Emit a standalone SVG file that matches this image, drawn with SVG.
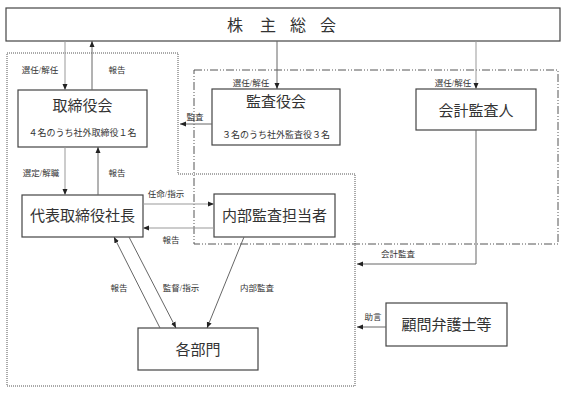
<svg xmlns="http://www.w3.org/2000/svg" width="568" height="398" viewBox="0 0 568 398">
<style>
.box{fill:#fff;stroke:#444;stroke-width:1.2}
.t{font-family:"Liberation Serif","Noto Sans CJK JP",serif;fill:#333;text-anchor:middle}
.big{font-size:15px}
.sm{font-size:8.5px}
.mid{font-size:9px}
.c{fill:none;stroke:#666;stroke-width:1}
.cl{fill:none;stroke:#999;stroke-width:1}
.dot{fill:none;stroke:#555;stroke-width:1;stroke-dasharray:1 1}
.dd{fill:none;stroke:#555;stroke-width:1;stroke-dasharray:8 2 1 2 1 2}
</style>
<defs>
<marker id="a" markerUnits="userSpaceOnUse" markerWidth="6" markerHeight="6" refX="6" refY="3" orient="auto">
<path d="M0,0.5 L6,3 L0,5.5 z" fill="#222"/>
</marker>
</defs>
<g id="regions">
<path class="dot" d="M7,53 H178 V174 H355 V386 H7 Z"/>
<path class="dd" d="M194,70 H558 V244 H194 Z"/>
</g>
<g id="shareholders">
<rect class="box" x="6" y="8" width="554" height="33"/>
<text class="t" style="font-size:16px" x="235 268 298 328" y="31">株主総会</text>
</g>
<g id="board">
<rect class="box" x="18" y="90" width="129" height="57"/>
<text class="t big" x="82.5" y="111">取締役会</text>
<text class="t mid" x="82.5" y="136">４名のうち社外取締役１名</text>
</g>
<g id="auditboard">
<rect class="box" x="212" y="89" width="128" height="56"/>
<text class="t big" x="276" y="107">監査役会</text>
<text class="t mid" x="276" y="138">３名のうち社外監査役３名</text>
</g>
<g id="accountant">
<rect class="box" x="416" y="89" width="120" height="41"/>
<text class="t big" x="476" y="116">会計監査人</text>
</g>
<g id="president">
<rect class="box" x="22" y="195" width="121" height="42"/>
<text class="t big" x="82.5" y="221">代表取締役社長</text>
</g>
<g id="internalaudit">
<rect class="box" x="214" y="194" width="121" height="43"/>
<text class="t big" x="274.5" y="221">内部監査担当者</text>
</g>
<g id="departments">
<rect class="box" x="138" y="328" width="120" height="42"/>
<text class="t big" x="198" y="355">各部門</text>
</g>
<g id="lawyers">
<rect class="box" x="386" y="303" width="121" height="43"/>
<text class="t big" x="446.5" y="330">顧問弁護士等</text>
</g>
<g id="connectors">
<path class="cl" d="M65,41 V90" marker-end="url(#a)"/>
<path class="c" d="M92,90 V41" marker-end="url(#a)"/>
<path class="c" d="M277,41 V89" marker-end="url(#a)"/>
<path class="cl" d="M476,41 V89" marker-end="url(#a)"/>
<path class="c" d="M212,124 H180" marker-end="url(#a)"/>
<path class="cl" d="M65,147 V195" marker-end="url(#a)"/>
<path class="c" d="M98,195 V147" marker-end="url(#a)"/>
<path class="cl" d="M143,204 H214" marker-end="url(#a)"/>
<path class="cl" d="M214,228 H143" marker-end="url(#a)"/>
<path class="c" d="M129,237 L176,328" marker-end="url(#a)"/>
<path class="c" d="M160,328 L114,237" marker-end="url(#a)"/>
<path class="c" d="M244,237 L207,328" marker-end="url(#a)"/>
<path class="c" d="M476,130 V264 H357" marker-end="url(#a)"/>
<path class="c" d="M386,327 H357" marker-end="url(#a)"/>
<text class="t sm" x="40" y="73">選任/解任</text>
<text class="t sm" x="117" y="73">報告</text>
<text class="t sm" x="251" y="86">選任/解任</text>
<text class="t sm" x="453" y="86">選任/解任</text>
<text class="t sm" x="195" y="120">監査</text>
<text class="t sm" x="41" y="176">選定/解職</text>
<text class="t sm" x="117" y="176">報告</text>
<text class="t sm" x="166" y="197">任命/指示</text>
<text class="t sm" x="171" y="243">報告</text>
<text class="t sm" x="119" y="291">報告</text>
<text class="t sm" x="181" y="291">監督/指示</text>
<text class="t sm" x="257" y="291">内部監査</text>
<text class="t sm" x="398" y="257">会計監査</text>
<text class="t sm" x="373" y="320">助言</text>
</g>
</svg>
